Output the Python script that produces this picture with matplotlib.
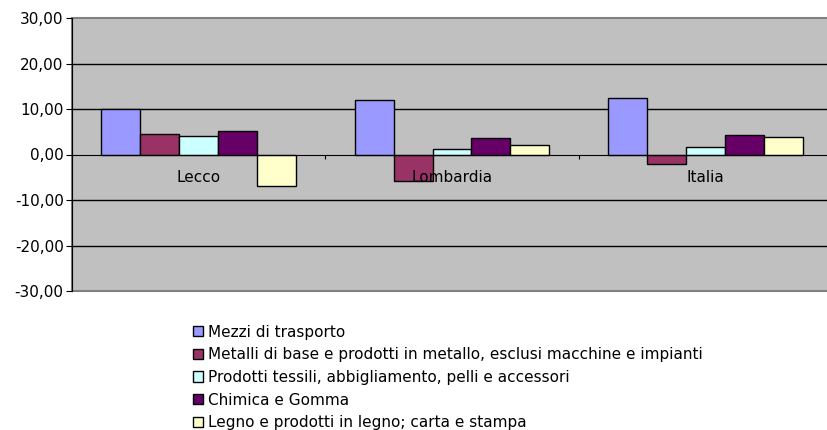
import matplotlib
matplotlib.use('Agg')
import matplotlib.pyplot as plt
import numpy as np

categories = ['Lecco', 'Lombardia', 'Italia']
series_names = [
    'Mezzi di trasporto',
    'Metalli di base e prodotti in metallo, esclusi macchine e impianti',
    'Prodotti tessili, abbigliamento, pelli e accessori',
    'Chimica e Gomma',
    'Legno e prodotti in legno; carta e stampa',
]
values = [
    [10.1, 12.0, 12.5],
    [4.6, -5.8, -2.1],
    [4.0, 1.2, 1.6],
    [5.2, 3.7, 4.3],
    [-7.0, 2.1, 3.9],
]
colors = ['#9999FF', '#993366', '#CCFFFF', '#660066', '#FFFFCC']
yticks = [-30, -20, -10, 0, 10, 20, 30]

plt.rcParams['font.family'] = ['DejaVu Sans']

fig = plt.figure(figsize=(8.27, 4.30), dpi=100)
ax = fig.add_axes([72 / 827, 139 / 430, 760 / 827, 273 / 430])
ax.set_facecolor('#C0C0C0')
ax.patch.set_edgecolor('#808080')
ax.patch.set_linewidth(1.5)

x = np.arange(len(categories))
n = len(series_names)
bw = 1 / (n + 1.5)
handles = []
for i, (name, vals, c) in enumerate(zip(series_names, values, colors)):
    offs = (i - (n - 1) / 2) * bw
    b = ax.bar(x + offs, vals, width=bw, color=c, edgecolor='black',
               linewidth=1, label=name, zorder=3)
    handles.append(b)

ax.set_xlim(-0.5, len(categories) - 0.5)
ax.set_ylim(yticks[0], yticks[-1])
ax.set_yticks(yticks)
ax.set_yticklabels([f'{v:.2f}'.replace('.', ',') for v in yticks], fontsize=11)
for v in yticks[1:-1]:
    if v != 0:
        ax.axhline(v, color='black', linewidth=1, zorder=1)

for s in ['top', 'right']:
    ax.spines[s].set_visible(False)
ax.spines['left'].set_color('black')
ax.spines['bottom'].set_position(('data', 0))
ax.spines['bottom'].set_color('black')
ax.spines['bottom'].set_zorder(4)
ax.set_xticks(x[:-1] + 0.5)
ax.set_xticklabels([])
ax.tick_params(axis='x', direction='out', length=3, color='black')
ax.tick_params(axis='y', direction='out', length=4, color='black', pad=2)

for xi, cat in zip(x, categories):
    ax.text(xi, -5.0, cat, ha='center', va='center', fontsize=11, zorder=5)

leg = fig.legend(handles=handles, labels=series_names, loc='upper left',
                 bbox_to_anchor=(185 / 827, 1 - 317 / 430), frameon=False,
                 fontsize=11, handlelength=0.65, handleheight=0.65,
                 handletextpad=0.35, labelspacing=0.5, borderpad=0)

fig.savefig('out.png', dpi=100)
